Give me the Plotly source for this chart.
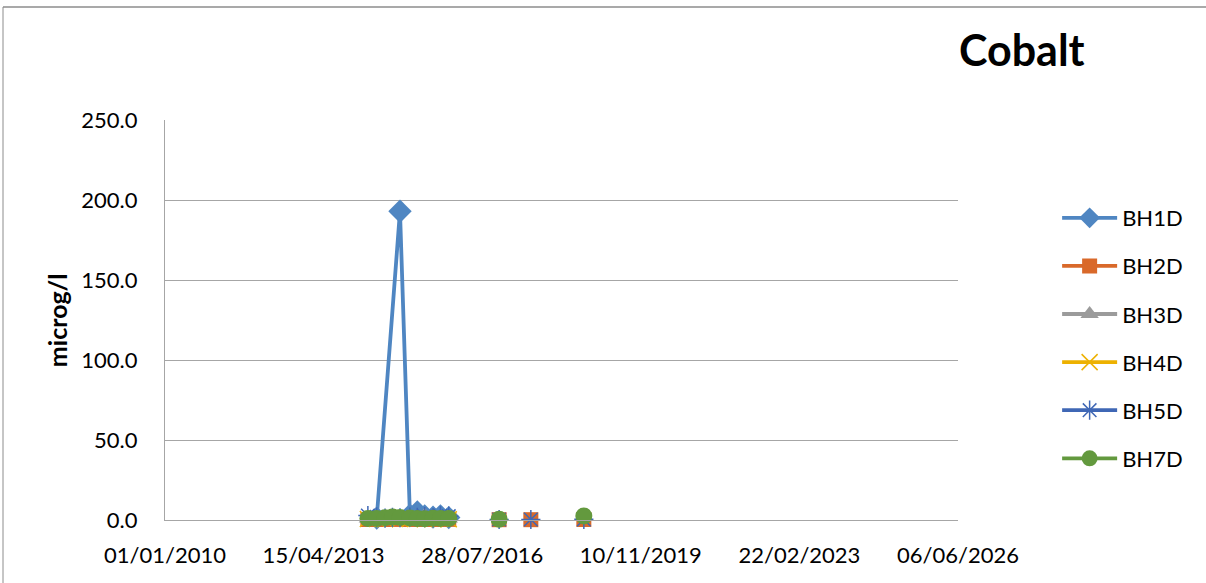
import plotly.graph_objects as go

# Cobalt monitoring results (microg/l) per borehole; None = no cobalt result that round
bh1d_dates = ["2014-05-22", "2014-11-14", "2015-01-28", "2015-03-25", "2015-05-20",
              "2015-07-22", "2015-09-16", "2015-11-18"]
bh1d_vals = [1.2, 193.0, 3.0, 5.0, 2.5, 1.8, 2.6, 1.5]

bh2d_dates = ["2014-03-16", "2014-05-22", "2014-07-24", "2014-09-18", "2014-11-14",
              "2015-01-28", "2015-03-25", "2015-05-20", "2015-07-22", "2015-09-16",
              "2015-11-18", "2016-06-15", "2016-12-03", "2017-04-10", "2017-07-31",
              "2018-02-15", "2018-09-05"]
bh2d_vals = [0.3, 0.5, 0.3, 0.6, 0.4, 0.5, 0.3, 0.4, 0.3, 0.5, 0.4,
             None, 0.2, None, 0.2, None, 0.3]

bh3d_dates = ["2014-03-16", "2014-05-22", "2014-07-24", "2014-09-18", "2014-11-14",
              "2015-01-28", "2015-03-25", "2015-05-20", "2015-07-22", "2015-09-16",
              "2015-11-18"]
bh3d_vals = [1.0, 1.2, 0.9, 1.5, 1.1, 1.3, 1.6, 2.8, 1.4, 1.2, 1.0]

bh4d_dates = ["2014-03-16", "2014-05-22", "2014-07-24", "2014-09-18", "2014-11-14",
              "2015-01-28", "2015-03-25", "2015-05-20", "2015-07-22", "2015-09-16",
              "2015-11-18"]
bh4d_vals = [0.6, 0.7, 0.5, 0.8, 0.6, 0.7, 0.6, 0.5, 0.6, 0.7, 0.5]

bh5d_dates = ["2014-03-16", "2014-05-22", "2014-07-24", "2014-09-18", "2014-11-14",
              "2015-01-28", "2015-03-25", "2015-05-20", "2015-07-22", "2015-09-16",
              "2015-11-18", "2016-06-15", "2016-12-03", "2017-04-10", "2017-07-31",
              "2018-02-15", "2018-09-05"]
bh5d_vals = [2.8, 2.0, 1.2, 1.6, 1.4, 1.8, 1.6, 2.2, 1.5, 2.6, 2.4,
             None, 0.3, None, 0.3, None, 0.4]

bh7d_dates = ["2014-03-16", "2014-05-22", "2014-07-24", "2014-09-18", "2014-11-14",
              "2015-01-28", "2015-03-25", "2015-05-20", "2015-07-22", "2015-09-16",
              "2015-11-18", "2016-06-15", "2016-12-03", "2017-04-10", "2018-09-05"]
bh7d_vals = [0.9, 1.0, 1.4, 1.8, 1.6, 1.2, 1.0, 0.8, 1.1, 0.9, 1.0,
             None, 0.5, None, 2.5]

y_ticks = [0, 50, 100, 150, 200, 250]
y_tick_text = ["0.0", "50.0", "100.0", "150.0", "200.0", "250.0"]

series = [
    ("BH1D", bh1d_dates, bh1d_vals, "#4F86C2", dict(symbol="diamond", size=18)),
    ("BH2D", bh2d_dates, bh2d_vals, "#D9692A", dict(symbol="square", size=15)),
    ("BH3D", bh3d_dates, bh3d_vals, "#9B9B9B", dict(symbol="triangle-up", size=16)),
    ("BH4D", bh4d_dates, bh4d_vals, "#EDB100", dict(symbol="x-thin-open", size=16,
                                                    line=dict(width=1.5, color="#EDB100"))),
    ("BH5D", bh5d_dates, bh5d_vals, "#3F67B5", dict(symbol="asterisk-open", size=16,
                                                    line=dict(width=1.5, color="#3F67B5"))),
    ("BH7D", bh7d_dates, bh7d_vals, "#63993E", dict(symbol="circle", size=17)),
]

FONT = "Lato, 'Open Sans', sans-serif"

fig = go.Figure()
for name, xs, ys, color, marker in series:
    marker = dict(marker)
    marker["color"] = color
    fig.add_trace(go.Scatter(
        x=xs, y=ys, name=name, mode="lines+markers",
        line=dict(color=color, width=3.8),
        marker=marker, connectgaps=False, legendgroup=name,
        cliponaxis=False,
    ))

# plot area spans x 165..958, y 120..520 in a 1206x583 canvas
fig.update_layout(
    width=1206, height=583,
    margin=dict(l=165, r=248, t=120, b=63),
    paper_bgcolor="white", plot_bgcolor="white",
    font=dict(family=FONT, size=22, color="#000000"),
    showlegend=True,
    legend=dict(
        x=1.125, y=0.8075, xanchor="left", yanchor="top",
        font=dict(family=FONT, size=22, color="#000000"),
        itemwidth=55, tracegroupgap=16.5, bgcolor="rgba(0,0,0,0)",
    ),
    xaxis=dict(
        type="date", range=["2010-01-01", "2026-06-06"],
        tick0="2010-01-01", dtick=1200 * 86400000, tickformat="%d/%m/%Y",
        showgrid=False, showline=True, linecolor="#A6A6A6", linewidth=1.3,
        ticks="", ticklabelstandoff=15, zeroline=False,
        tickfont=dict(family=FONT, size=22, color="#000000"),
    ),
    yaxis=dict(
        range=[0, 250], tickvals=y_ticks, ticktext=y_tick_text,
        showgrid=True, gridcolor="#A6A6A6", gridwidth=1.3,
        showline=True, linecolor="#A6A6A6", linewidth=1.3,
        ticks="", ticklabelstandoff=22, zeroline=False,
        tickfont=dict(family=FONT, size=22, color="#000000"),
    ),
    annotations=[
        dict(text="<b>Cobalt</b>", xref="paper", yref="paper",
             x=1.0807, y=1.175, xanchor="center", yanchor="middle",
             showarrow=False, font=dict(family=FONT, size=43, color="#000000")),
        dict(text="<b>microg/l</b>", xref="paper", yref="paper",
             x=-0.136, y=0.5, xanchor="center", yanchor="middle", textangle=-90,
             showarrow=False, font=dict(family=FONT, size=25, color="#000000")),
    ],
    shapes=[
        # chart-area frame along the top and left edges
        dict(type="line", xref="paper", yref="paper",
             x0=(3 - 165) / 793, x1=(1206 - 165) / 793,
             y0=(520 - 7) / 400, y1=(520 - 7) / 400,
             line=dict(color="#8C8C8C", width=1.5)),
        dict(type="line", xref="paper", yref="paper",
             x0=(3 - 165) / 793, x1=(3 - 165) / 793,
             y0=(520 - 7) / 400, y1=(520 - 583) / 400,
             line=dict(color="#8C8C8C", width=1)),
    ],
)

fig.write_html("out.html")
